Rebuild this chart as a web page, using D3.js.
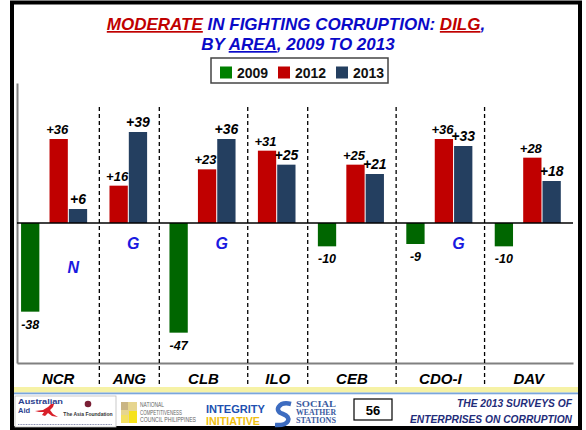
<!DOCTYPE html>
<html>
<head>
<meta charset="utf-8">
<script src="https://cdn.jsdelivr.net/npm/d3@7"></script>
<style>
  body { margin: 0; background: #fff; }
  text { font-family: "Liberation Sans", Arial, sans-serif; }
</style>
</head>
<body>
<div id="chart"></div>
<script>
// Chart data
var categories = ["NCR", "ANG", "CLB", "ILO", "CEB", "CDO-I", "DAV"];
var years = ["2009", "2012", "2013"];
var values2009 = [-38, null, -47, null, -10, -9, -10];
var values2012 = [36, 16, 23, 31, 25, 36, 28];
var values2013 = [6, 39, 36, 25, 21, 33, 18];
var notes = ["N", "G", "G", "", "", "G", ""];

var colors = { "2009": "#006600", "2012": "#c00000", "2013": "#243f60" };

var svgWidth = 586;
var svgHeight = 430;

// plot area inside the slide
var plot = { left: 17, right: 573, top: 83, bottom: 363 };

var svg = d3.select("#chart")
  .append("svg")
  .attr("width", svgWidth)
  .attr("height", svgHeight);

// slide frame
svg.append("rect")
  .attr("x", 12).attr("y", 2.5)
  .attr("width", 568).attr("height", 425.5)
  .attr("fill", "#fff")
  .attr("stroke", "#000")
  .attr("stroke-width", 4);

// Title
var title = svg.append("text")
  .attr("x", 296).attr("y", 30)
  .attr("text-anchor", "middle")
  .style("font-size", "17px")
  .style("font-weight", "bold")
  .style("font-style", "italic")
  .attr("fill", "#0a0ac8");
title.append("tspan").attr("fill", "#c00000").attr("text-decoration", "underline").text("MODERATE");
title.append("tspan").text(" IN FIGHTING CORRUPTION: ");
title.append("tspan").attr("fill", "#c00000").attr("text-decoration", "underline").text("DILG");
title.append("tspan").text(",");

var title2 = svg.append("text")
  .attr("x", 298).attr("y", 50)
  .attr("text-anchor", "middle")
  .style("font-size", "17px")
  .style("font-weight", "bold")
  .style("font-style", "italic")
  .attr("fill", "#0a0ac8");
title2.append("tspan").text("BY ");
title2.append("tspan").attr("text-decoration", "underline").text("AREA");
title2.append("tspan").text(", 2009 TO 2013");

// Legend
var legend = svg.append("g");
legend.append("rect")
  .attr("x", 211).attr("y", 58)
  .attr("width", 177).attr("height", 25)
  .attr("fill", "#fff")
  .attr("stroke", "#444")
  .attr("stroke-width", 1.5);
var legendItem = legend.selectAll(".legend-item")
  .data(years)
  .enter()
  .append("g")
  .attr("transform", (d, i) => `translate(${220 + i * 58}, 66.5)`);
legendItem.append("rect")
  .attr("width", 12).attr("height", 12)
  .attr("fill", d => d === "2009" ? "#008000" : colors[d]);
legendItem.append("text")
  .attr("x", 17).attr("y", 11.5)
  .style("font-size", "14px")
  .style("font-weight", "bold")
  .attr("fill", "#111")
  .text(d => d);

// Lay the groups out left to right: a group only takes room for the bars it has
var barW = 18, greenGap = 10, pairGap = 1, padL = 10, padR = 12;
var groups = [];
var cursor = 0;
categories.forEach(function (c, i) {
  var g = { name: c, start: cursor, note: notes[i], bars: [] };
  var u = cursor + (i === 0 ? padL - 6 : padL);
  if (values2009[i] !== null) {
    g.bars.push({ year: "2009", value: values2009[i], u: u });
    u += barW + greenGap;
  }
  g.bars.push({ year: "2012", value: values2012[i], u: u });
  g.pairMid = u + barW + pairGap / 2;
  u += barW + pairGap;
  g.bars.push({ year: "2013", value: values2013[i], u: u });
  u += barW;
  g.end = u + padR;
  cursor = g.end;
  groups.push(g);
});
var allBars = [];
groups.forEach(g => g.bars.forEach(b => allBars.push(b)));

var x = d3.scaleLinear().domain([0, cursor]).range([plot.left, plot.right]);
var y = d3.scaleLinear().domain([-60, 60]).range([plot.bottom, plot.top]);
var bw = x(barW) - x(0);

// Plot frame: left and bottom grey lines
svg.append("g")
  .attr("transform", `translate(${plot.left}, 0)`)
  .call(d3.axisLeft(y).ticks(0).tickSize(0).tickFormat(""))
  .select(".domain").attr("stroke", "#808080").attr("stroke-width", 2);
svg.append("g")
  .attr("transform", `translate(0, ${plot.bottom})`)
  .call(d3.axisBottom(x).ticks(0).tickSize(0).tickFormat(""))
  .select(".domain").attr("stroke", "#808080").attr("stroke-width", 2);

// Dashed separators between areas
svg.selectAll(".sep")
  .data(groups.slice(1))
  .enter()
  .append("line")
  .attr("x1", d => x(d.start)).attr("x2", d => x(d.start))
  .attr("y1", 107).attr("y2", 386)
  .attr("stroke", "#000")
  .attr("stroke-width", 1.3)
  .attr("stroke-dasharray", "4,3");

// Bars
svg.selectAll(".bar")
  .data(allBars)
  .enter()
  .append("rect")
  .attr("x", d => x(d.u))
  .attr("y", d => y(Math.max(0, d.value)))
  .attr("width", bw)
  .attr("height", d => Math.abs(y(d.value) - y(0)))
  .attr("fill", d => colors[d.year]);

// Zero line
svg.append("line")
  .attr("x1", plot.left).attr("x2", plot.right)
  .attr("y1", y(0)).attr("y2", y(0))
  .attr("stroke", "#000")
  .attr("stroke-width", 1.6);

// Value labels
svg.selectAll(".val")
  .data(allBars)
  .enter()
  .append("text")
  .attr("x", d => x(d.u) + bw / 2 - (d.year === "2012" ? 1.5 : 0))
  .attr("y", d => d.value >= 0 ? y(d.value) - 5 : y(d.value) + 17)
  .attr("text-anchor", "middle")
  .style("font-size", d => d.year === "2013" ? "14px" : (d.year === "2012" ? "13px" : "12.5px"))
  .style("font-weight", "bold")
  .style("font-style", "italic")
  .attr("fill", "#000")
  .text(d => (d.value > 0 ? "+" : "") + d.value);

// N / G notes
svg.selectAll(".note")
  .data(groups.filter(g => g.note !== ""))
  .enter()
  .append("text")
  .attr("x", d => x(d.pairMid) + 5)
  .attr("y", d => d.note === "N" ? y(0) + 50 : y(0) + 26)
  .attr("text-anchor", "middle")
  .style("font-size", "16px")
  .style("font-weight", "bold")
  .style("font-style", "italic")
  .attr("fill", "#1a1ae0")
  .text(d => d.note);

// Category labels
svg.selectAll(".cat")
  .data(groups)
  .enter()
  .append("text")
  .attr("x", d => x((d.start + d.end) / 2))
  .attr("y", 384)
  .attr("text-anchor", "middle")
  .style("font-size", "15px")
  .style("font-weight", "bold")
  .style("font-style", "italic")
  .attr("fill", "#000")
  .text(d => d.name);

// Footer strip
svg.append("rect").attr("x", 14).attr("y", 387).attr("width", 564).attr("height", 5.5).attr("fill", "#f6f2a6");
svg.append("rect").attr("x", 14).attr("y", 392.5).attr("width", 564).attr("height", 1.8).attr("fill", "#7aa6dc");

var footer = svg.append("g");

// Australian Aid / Asia Foundation box
footer.append("rect").attr("x", 15).attr("y", 396).attr("width", 101).attr("height", 31)
  .attr("fill", "#fff").attr("stroke", "#bbb").attr("stroke-width", 0.8);
footer.append("text").attr("x", 18).attr("y", 404).style("font-size", "7.5px").style("font-weight", "bold")
  .attr("fill", "#2b3f8f").attr("textLength", 45).attr("lengthAdjust", "spacingAndGlyphs").text("Australian");
footer.append("text").attr("x", 18).attr("y", 412.5).style("font-size", "7.5px").style("font-weight", "bold")
  .attr("fill", "#2b3f8f").text("Aid");
footer.append("path")
  .attr("d", "M35,411 L43,410 L48,407 L51,404 L54,404 L53,407 L50,410 L53,414 L58,417 L52,416 L48,413 L45,416 L42,415 L44,412 L39,412 Z")
  .attr("fill", "#d9202a");
footer.append("circle").attr("cx", 88).attr("cy", 404).attr("r", 3.3).attr("fill", "#7a1f35");
footer.append("text").attr("x", 88).attr("y", 416).attr("text-anchor", "middle")
  .style("font-size", "5px").style("font-weight", "bold").attr("fill", "#333").text("The Asia Foundation");
footer.append("line").attr("x1", 18).attr("x2", 112).attr("y1", 424.5).attr("y2", 424.5)
  .attr("stroke", "#8a8fb0").attr("stroke-width", 1).attr("stroke-dasharray", "1,0.6");

// NCC logo
footer.append("rect").attr("x", 121).attr("y", 402).attr("width", 16).attr("height", 21).attr("fill", "#e6d58e");
footer.append("rect").attr("x", 121).attr("y", 402).attr("width", 7).attr("height", 8).attr("fill", "#c9b584");
footer.append("rect").attr("x", 129).attr("y", 411).attr("width", 8).attr("height", 12).attr("fill", "#f6e21a");
footer.append("rect").attr("x", 121).attr("y", 415).attr("width", 7).attr("height", 8).attr("fill", "#f3e060");
["NATIONAL", "COMPETITIVENESS", "COUNCIL PHILIPPINES"].forEach(function (t, i) {
  footer.append("text").attr("x", 140).attr("y", 407 + i * 7.6)
    .style("font-size", "6.3px").attr("fill", "#666")
    .attr("textLength", i === 0 ? 24 : (i === 1 ? 42 : 56)).attr("lengthAdjust", "spacingAndGlyphs")
    .text(t);
});

// Integrity Initiative
footer.append("text").attr("x", 206).attr("y", 413).style("font-size", "11.5px").style("font-weight", "bold")
  .attr("fill", "#2050b0").attr("textLength", 59).attr("lengthAdjust", "spacingAndGlyphs").text("INTEGRITY");
footer.append("text").attr("x", 206).attr("y", 425).style("font-size", "11.5px").style("font-weight", "bold")
  .attr("fill", "#f0c010").attr("textLength", 54).attr("lengthAdjust", "spacingAndGlyphs").text("INITIATIVE");

// Social Weather Stations
footer.append("path")
  .attr("d", "M291,404 C279,401 273,411 283,414 C292,417 290,426 275,425")
  .attr("fill", "none").attr("stroke", "#3d6cc0").attr("stroke-width", 4.5);
["SOCIAL", "WEATHER", "STATIONS"].forEach(function (t, i) {
  footer.append("text").attr("x", 296).attr("y", 407 + i * 8)
    .style("font-family", "'Liberation Serif', serif")
    .style("font-size", "7.5px").style("font-weight", "bold").attr("fill", "#3a5aa0")
    .attr("textLength", 40).attr("lengthAdjust", "spacingAndGlyphs")
    .text(t);
});

// Page number
footer.append("rect").attr("x", 354).attr("y", 399).attr("width", 38).attr("height", 21)
  .attr("fill", "#fff").attr("stroke", "#000").attr("stroke-width", 1.2);
footer.append("text").attr("x", 373).attr("y", 414.5).attr("text-anchor", "middle")
  .style("font-size", "13px").style("font-weight", "bold").attr("fill", "#000").text("56");

// Survey name
footer.append("text").attr("x", 572).attr("y", 407).attr("text-anchor", "end")
  .style("font-size", "11px").style("font-weight", "bold").style("font-style", "italic")
  .attr("fill", "#1f2d7a").attr("textLength", 115).attr("lengthAdjust", "spacingAndGlyphs")
  .text("THE 2013 SURVEYS OF");
footer.append("text").attr("x", 572).attr("y", 423).attr("text-anchor", "end")
  .style("font-size", "11px").style("font-weight", "bold").style("font-style", "italic")
  .attr("fill", "#1f2d7a").attr("textLength", 162).attr("lengthAdjust", "spacingAndGlyphs")
  .text("ENTERPRISES ON CORRUPTION");
</script>
</body>
</html>
